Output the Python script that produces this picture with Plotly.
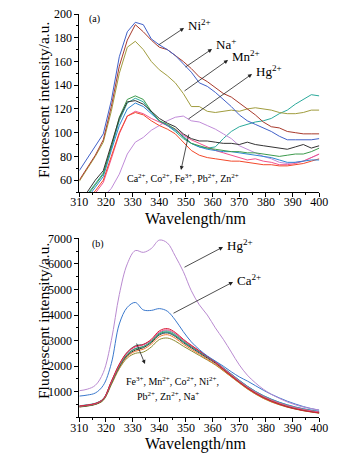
import plotly.graph_objects as go

wl = [310, 313, 316, 319, 322, 325, 328, 331, 334, 337, 340, 343, 346, 349, 352, 355,
      358, 361, 364, 367, 370, 373, 376, 379, 382, 385, 388, 391, 394, 397, 400]

# ---- panel (a) ----
a_ni = [68, 78, 88, 99, 127, 164, 185, 193, 191, 179, 174, 170, 165, 158, 151, 142,
        139, 134, 128, 122, 115, 110, 107, 104, 101, 97, 94, 94, 94, 94, 95]
a_na = [60, 70, 81, 94, 122, 156, 178, 191, 185, 178, 172, 170, 165, 160, 154, 147,
        143, 138, 133, 130, 125, 120, 115, 109, 105, 104, 101, 100, 99, 99, 99]
a_mn = [59, 69, 80, 92, 118, 150, 172, 177, 170, 160, 153, 148, 142, 133, 122, 122,
        118, 117, 118, 119, 118, 120, 121, 120, 119, 117, 116, 116, 117, 119, 119]
a_hg = [30, 35, 40, 46, 53, 65, 82, 92, 96, 102, 106, 110, 113, 114, 110, 109,
        106, 103, 99, 95, 89, 86, 83, 80, 78, 75, 74, 75, 76, 79, 82]
a_black = [44, 50, 60, 68, 90, 112, 126, 127, 124, 118, 112, 108, 105, 99, 95, 93,
           93, 92, 91, 91, 90, 92, 90, 89, 88, 87, 86, 88, 90, 87, 89]
a_green = [40, 47, 56, 65, 88, 113, 128, 131, 128, 118, 110, 107, 103, 96, 91, 89,
           87, 86, 85, 84, 84, 83, 83, 82, 81, 80, 81, 82, 82, 84, 87]
a_teal = [42, 48, 57, 66, 87, 110, 125, 129, 126, 117, 110, 106, 101, 95, 91, 88,
          87, 88, 95, 101, 105, 107, 109, 110, 112, 116, 119, 124, 128, 132, 131]
a_lblue = [38, 45, 54, 63, 85, 106, 120, 125, 122, 116, 110, 106, 102, 97, 91, 88,
           86, 85, 84, 84, 83, 82, 81, 80, 79, 77, 75, 75, 76, 77, 77]
a_red = [36, 43, 51, 60, 80, 100, 114, 117, 115, 110, 106, 103, 99, 92, 85, 81,
         79, 78, 77, 76, 76, 75, 74, 73, 73, 72, 72, 73, 74, 76, 78]
a_pink = [34, 41, 49, 58, 78, 99, 114, 118, 116, 112, 109, 106, 103, 98, 94, 91,
          88, 85, 83, 81, 79, 77, 78, 76, 75, 73, 73, 74, 76, 79, 82]

# ---- panel (b) ----
b_hg = [1040, 1100, 1250, 1750, 3000, 4800, 6000, 6520, 6450, 6600, 6930, 6820, 6300, 5700, 4950, 4400,
        4000, 3500, 3050, 2550, 2050, 1650, 1350, 1100, 900, 740, 600, 490, 400, 340, 280]
b_ca = [830, 870, 950, 1250, 2100, 3650, 4300, 4490, 4200, 4180, 4250, 4150, 3800, 3350, 2950, 2650,
        2400, 2200, 2000, 1780, 1580, 1420, 1240, 1060, 900, 760, 630, 520, 420, 340, 280]
b_red = [440, 480, 540, 720, 1400, 2080, 2550, 2780, 2850, 3050, 3380, 3470, 3320, 3050, 2820, 2600,
         2380, 2150, 1880, 1620, 1370, 1140, 940, 770, 630, 510, 410, 330, 265, 215, 170]
b_pink = [430, 470, 530, 710, 1380, 2050, 2520, 2750, 2830, 3020, 3330, 3420, 3280, 3020, 2800, 2590,
          2380, 2170, 1920, 1670, 1420, 1190, 990, 820, 680, 560, 460, 380, 310, 255, 205]
b_teal = [450, 490, 550, 730, 1390, 2060, 2540, 2800, 2850, 3000, 3300, 3380, 3250, 3000, 2790, 2580,
          2380, 2180, 1940, 1690, 1440, 1210, 1010, 840, 700, 580, 480, 395, 325, 270, 220]
b_green = [420, 460, 520, 700, 1350, 2000, 2460, 2680, 2760, 2960, 3260, 3340, 3200, 2960, 2760, 2560,
           2360, 2160, 1910, 1660, 1410, 1180, 980, 810, 670, 550, 450, 370, 300, 250, 200]
b_lblue = [440, 480, 540, 710, 1360, 2010, 2470, 2690, 2770, 2960, 3250, 3320, 3190, 2950, 2750, 2550,
           2360, 2170, 1930, 1690, 1450, 1220, 1020, 850, 710, 590, 490, 405, 335, 280, 230]
b_black = [410, 450, 510, 690, 1330, 1970, 2420, 2630, 2720, 2920, 3220, 3300, 3160, 2920, 2720, 2520,
           2320, 2120, 1870, 1620, 1380, 1150, 950, 780, 640, 520, 420, 340, 275, 225, 180]
b_orange = [420, 455, 515, 680, 1310, 1940, 2380, 2580, 2660, 2860, 3150, 3230, 3090, 2860, 2660, 2470,
            2270, 2070, 1830, 1590, 1350, 1120, 920, 750, 610, 500, 405, 330, 265, 215, 170]
b_olive = [400, 440, 500, 660, 1270, 1900, 2320, 2500, 2550, 2750, 3040, 3100, 2980, 2780, 2600, 2420,
           2240, 2050, 1820, 1580, 1340, 1110, 910, 740, 600, 490, 395, 320, 255, 205, 160]

x_ticks = [310, 320, 330, 340, 350, 360, 370, 380, 390, 400]
ya_ticks = [60, 80, 100, 120, 140, 160, 180, 200]
yb_ticks = [1000, 2000, 3000, 4000, 5000, 6000, 7000]

FONT = "Liberation Serif"

fig = go.Figure()

series_a = [
    (a_teal, "#2BA99B"), (a_hg, "#C08BD8"), (a_pink, "#F2508C"), (a_red, "#F2482A"),
    (a_lblue, "#2F86D2"), (a_green, "#3C9A4C"), (a_black, "#333333"),
    (a_mn, "#A09C3E"), (a_na, "#A83A2C"), (a_ni, "#4060C8"),
]
for ys, c in series_a:
    fig.add_trace(go.Scatter(x=wl, y=ys, mode="lines", line=dict(color=c, width=1),
                             xaxis="x", yaxis="y", showlegend=False, hoverinfo="skip"))

series_b = [
    (b_olive, "#8A8A30"), (b_orange, "#F07A30"), (b_black, "#333333"), (b_lblue, "#2F86D2"),
    (b_green, "#3C9A4C"), (b_teal, "#2BA99B"), (b_pink, "#F2508C"), (b_red, "#D8203A"),
    (b_ca, "#3A78CC"), (b_hg, "#B98AD0"),
]
for ys, c in series_b:
    fig.add_trace(go.Scatter(x=wl, y=ys, mode="lines", line=dict(color=c, width=1, shape="spline"),
                             xaxis="x2", yaxis="y2", showlegend=False, hoverinfo="skip"))

W, H = 362, 455
def px(x):
    return x / W
def py(y):
    return 1 - y / H

axis_common = dict(showline=True, linecolor="black", linewidth=1, mirror=False, automargin=False,
                   ticks="outside", ticklen=4, tickcolor="black", showgrid=False, zeroline=False,
                   tickfont=dict(family=FONT, size=12, color="black"))

xa = dict(axis_common, range=[310, 400], tickvals=x_ticks, ticklabelstandoff=-5,
          minor=dict(ticks="outside", ticklen=2, tick0=310, dtick=5, tickcolor="black"))

fig.update_layout(
    width=W, height=H,
    margin=dict(l=0, r=0, t=0, b=0),
    paper_bgcolor="white", plot_bgcolor="white",
    xaxis=dict(xa, domain=[px(79.3), px(319.3)], anchor="y"),
    yaxis=dict(axis_common, domain=[py(192), py(14)], anchor="x", range=[50, 200], tickvals=ya_ticks,
               minor=dict(ticks="outside", ticklen=2, tick0=50, dtick=10, tickcolor="black")),
    xaxis2=dict(xa, domain=[px(79.3), px(319.3)], anchor="y2"),
    yaxis2=dict(axis_common, domain=[py(417.3), py(238.3)], anchor="x2", range=[0, 7000], tickvals=yb_ticks,
                minor=dict(ticks="outside", ticklen=2, tick0=0, dtick=500, tickcolor="black")),
)

def arrow(x0, y0, x1, y1):
    fig.add_annotation(x=px(x1), y=py(y1), ax=x0 - x1, ay=y0 - y1, xref="paper", yref="paper",
                       axref="pixel", ayref="pixel", showarrow=True, arrowhead=2, arrowsize=1,
                       arrowwidth=0.8, arrowcolor="#222222", text="")

def label(x, y, t, size=12, xanchor="left", angle=0):
    fig.add_annotation(x=px(x), y=py(y), xref="paper", yref="paper", text=t, showarrow=False,
                       xanchor=xanchor, yanchor="middle", textangle=angle,
                       font=dict(family=FONT, size=size, color="black"))

# axis titles
label(195, 219, "Wavelength/nm", 16, "center")
label(195, 444, "Wavelength/nm", 16, "center")
label(43, 100, "Fluorescent intensity/a.u.", 15.5, "center", -90)
label(43, 321, "Fluorescent intensity/a.u.", 15.5, "center", -90)

# panel (a) annotations
label(87, 19, "(a)", 10)
arrow(157, 46, 184, 28); label(186, 25, "Ni<sup>2+</sup>", 13)
arrow(184, 68, 212, 49); label(214, 44, "Na<sup>+</sup>", 13)
arrow(183, 92, 228, 60); label(230, 56, "Mn<sup>2+</sup>", 13)
arrow(187, 120, 252, 74); label(254, 71, "Hg<sup>2+</sup>", 13)
arrow(189, 133, 181, 170)
label(183, 178, "Ca<sup>2+</sup>, Co<sup>2+</sup>, Fe<sup>3+</sup>, Pb<sup>2+</sup>, Zn<sup>2+</sup>", 10, "center")

# panel (b) annotations
label(90, 244, "(b)", 10)
arrow(183, 268, 223, 247); label(225, 245, "Hg<sup>2+</sup>", 13)
arrow(172, 314, 233, 282); label(235, 280, "Ca<sup>2+</sup>", 13)
arrow(136, 342, 145, 364)
label(172, 381, "Fe<sup>3+</sup>, Mn<sup>2+</sup>, Co<sup>2+</sup>, Ni<sup>2+</sup>,", 10, "center")
label(168, 396, "Pb<sup>2+</sup>, Zn<sup>2+</sup>, Na<sup>+</sup>", 10, "center")

fig.write_html("out.html", config={"displayModeBar": False},
               post_script="document.body.style.margin='0';document.body.style.overflow='hidden';")
